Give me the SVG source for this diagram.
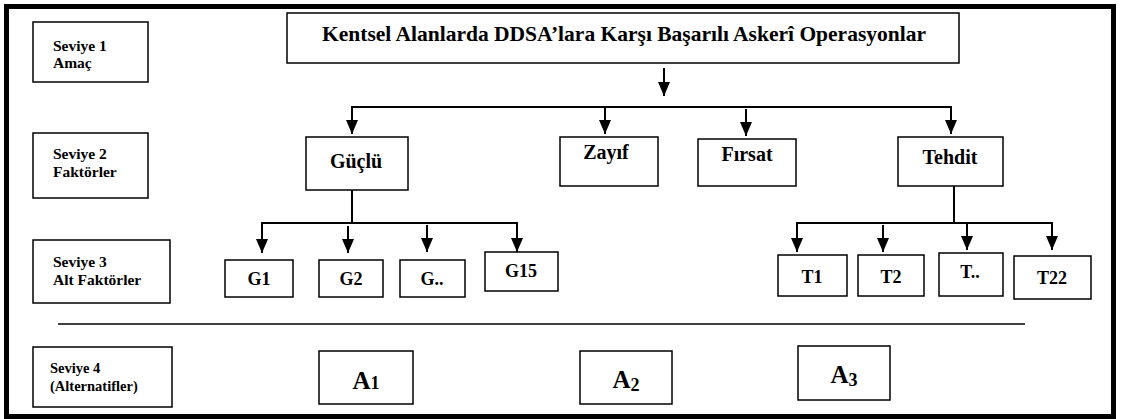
<svg xmlns="http://www.w3.org/2000/svg" width="1123" height="419" viewBox="0 0 1123 419">
<style>
.box{fill:#fff;stroke:#000;stroke-width:1.5}
.con{fill:none;stroke:#000;stroke-width:2}
text{font-family:"Liberation Serif","Times New Roman",serif;font-weight:bold;fill:#000}
.lvl{font-size:15.5px}
.lvl4{font-size:14.5px}
.ttl{font-size:21.5px}
.fac{font-size:20px}
.sub{font-size:18px}
.alt{font-size:25px}
.dig{font-size:18px}
</style>
<defs>
<marker id="ah" viewBox="0 0 14 12" refX="14" refY="6" markerWidth="14" markerHeight="12" markerUnits="userSpaceOnUse" orient="auto">
<path d="M0,0 L14,6 L0,12 z" fill="#000"/>
</marker>
</defs>
<rect x="0" y="0" width="1123" height="419" fill="#fff"/>
<rect x="6.5" y="6.5" width="1107" height="410" fill="none" stroke="#000" stroke-width="5"/>

<g id="lvl1"><rect class="box" x="33" y="22" width="115" height="60"/><text class="lvl" x="53" y="51">Seviye 1</text><text class="lvl" x="53" y="68">Amaç</text></g>
<g id="lvl2"><rect class="box" x="33" y="133" width="115" height="65"/><text class="lvl" x="53" y="159">Seviye 2</text><text class="lvl" x="53" y="177">Faktörler</text></g>
<g id="lvl3"><rect class="box" x="33" y="240" width="137" height="63"/><text class="lvl" x="53" y="267">Seviye 3</text><text class="lvl" x="53" y="285">Alt Faktörler</text></g>
<g id="lvl4"><rect class="box" x="33" y="347" width="139" height="60"/><text class="lvl4" x="50" y="373">Seviye 4</text><text class="lvl4" x="50" y="391">(Alternatifler)</text></g>

<g id="goal"><rect class="box" x="287" y="13" width="672" height="50"/><text class="ttl" x="624" y="41" text-anchor="middle">Kentsel Alanlarda DDSA’lara Karşı Başarılı Askerî Operasyonlar</text></g>

<g id="guclu"><rect class="box" x="306" y="137" width="102" height="53"/><text class="fac" x="356" y="168" text-anchor="middle">Güçlü</text></g>
<g id="zayif"><rect class="box" x="560" y="137" width="98" height="49"/><text class="fac" x="606" y="159" text-anchor="middle">Zayıf</text></g>
<g id="firsat"><rect class="box" x="698" y="139" width="98" height="47"/><text class="fac" x="747" y="161" text-anchor="middle">Fırsat</text></g>
<g id="tehdit"><rect class="box" x="898" y="137" width="105" height="49"/><text class="fac" x="950" y="164" text-anchor="middle">Tehdit</text></g>

<g id="g1"><rect class="box" x="225" y="260" width="68" height="37"/><text class="sub" x="259" y="285" text-anchor="middle">G1</text></g>
<g id="g2"><rect class="box" x="319" y="260" width="64" height="37"/><text class="sub" x="351" y="285" text-anchor="middle">G2</text></g>
<g id="gdots"><rect class="box" x="400" y="260" width="65" height="37"/><text class="sub" x="432" y="285" text-anchor="middle">G..</text></g>
<g id="g15"><rect class="box" x="485" y="252" width="73" height="39"/><text class="sub" x="521" y="277" text-anchor="middle">G15</text></g>

<g id="t1"><rect class="box" x="778" y="255" width="69" height="41"/><text class="sub" x="812" y="283" text-anchor="middle">T1</text></g>
<g id="t2"><rect class="box" x="858" y="255" width="66" height="41"/><text class="sub" x="891" y="283" text-anchor="middle">T2</text></g>
<g id="tdots"><rect class="box" x="939" y="253" width="64" height="43"/><text class="sub" x="970" y="278" text-anchor="middle">T..</text></g>
<g id="t22"><rect class="box" x="1014" y="256" width="77" height="43"/><text class="sub" x="1052" y="284" text-anchor="middle">T22</text></g>

<g id="a1"><rect class="box" x="319" y="351" width="94" height="53"/><text class="alt" x="366" y="389" text-anchor="middle">A<tspan class="dig">1</tspan></text></g>
<g id="a2"><rect class="box" x="580" y="351" width="92" height="53"/><text class="alt" x="626" y="388" text-anchor="middle">A<tspan class="dig" dy="3">2</tspan></text></g>
<g id="a3"><rect class="box" x="798" y="346" width="92" height="54"/><text class="alt" x="844" y="383" text-anchor="middle">A<tspan class="dig" dy="3">3</tspan></text></g>

<g id="connectors">
<line class="con" x1="664" y1="68" x2="664" y2="96" marker-end="url(#ah)"/>
<polyline class="con" points="352,134 352,107 951,107 951,134" marker-end="url(#ah)"/>
<line class="con" x1="352" y1="120" x2="352" y2="134" marker-end="url(#ah)"/>
<line class="con" x1="605" y1="107" x2="605" y2="134" marker-end="url(#ah)"/>
<line class="con" x1="746" y1="109" x2="746" y2="136" marker-end="url(#ah)"/>
<line class="con" x1="352" y1="190" x2="352" y2="223"/>
<line class="con" x1="262" y1="223" x2="517" y2="223"/>
<line class="con" x1="262" y1="222" x2="262" y2="253" marker-end="url(#ah)"/>
<line class="con" x1="348" y1="226" x2="348" y2="253" marker-end="url(#ah)"/>
<line class="con" x1="427" y1="225" x2="427" y2="252" marker-end="url(#ah)"/>
<line class="con" x1="517" y1="222" x2="517" y2="252" marker-end="url(#ah)"/>
<line class="con" x1="954" y1="186" x2="954" y2="223"/>
<line class="con" x1="797" y1="223" x2="1052" y2="223"/>
<line class="con" x1="797" y1="222" x2="797" y2="252" marker-end="url(#ah)"/>
<line class="con" x1="883" y1="225" x2="883" y2="252" marker-end="url(#ah)"/>
<line class="con" x1="967" y1="223" x2="967" y2="250" marker-end="url(#ah)"/>
<line class="con" x1="1052" y1="222" x2="1052" y2="250" marker-end="url(#ah)"/>
<line x1="58" y1="324" x2="1025" y2="324" stroke="#000" stroke-width="1.5"/>
</g>
</svg>
